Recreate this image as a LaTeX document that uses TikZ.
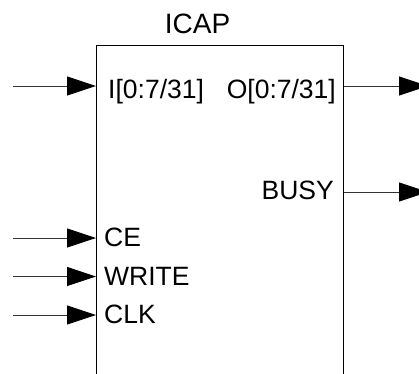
\documentclass[tikz,border=0pt]{standalone}
\usepackage{fontspec}
\setmainfont{Liberation Sans}
\usetikzlibrary{arrows.meta}

\begin{document}
\begin{tikzpicture}[x=1pt,y=1pt,
  pinfont/.style={font=\fontsize{26.5}{28}\selectfont, inner sep=0pt},
  titlefont/.style={font=\fontsize{28}{30}\selectfont, inner sep=0pt},
  sig/.style={draw=black!80, line width=0.8pt,
    -{Triangle[length=29pt,width=19pt,color=black,fill=black]}},
]
\useasboundingbox (0,-373) rectangle (419,0);
\clip (0,-373) rectangle (419,0);

% block outline (bottom edge lies below the visible area)
\node[draw, line width=0.8pt, minimum width=247pt, minimum height=360pt,
      anchor=north west, inner sep=0pt] (icap) at (96,-45) {};

% title
\node[titlefont, anchor=base] (title) at (197.5,-33) {ICAP};

% port labels
\node[pinfont, anchor=base west] (pi)    at (108,-98)  {I[0:7/31]};
\node[pinfont, anchor=base east] (po)    at (336,-98)  {O[0:7/31]};
\node[pinfont, anchor=base east] (busy)  at (334,-199) {BUSY};
\node[pinfont, anchor=base west] (ce)    at (104,-246.5) {CE};
\node[pinfont, anchor=base west] (write) at (104,-285) {WRITE};
\node[pinfont, anchor=base west] (clk)   at (104,-323.5) {CLK};

% free ends of the signal lines
\coordinate (inI)   at (13,-86);
\coordinate (inCE)  at (13,-238);
\coordinate (inWR)  at (13,-276.5);
\coordinate (inCLK) at (13,-315);
\coordinate (outO)  at (428,-86);
\coordinate (outB)  at (428,-192);

% inputs
\draw[sig] (inI)   -- (inI   -| icap.west);
\draw[sig] (inCE)  -- (inCE  -| icap.west);
\draw[sig] (inWR)  -- (inWR  -| icap.west);
\draw[sig] (inCLK) -- (inCLK -| icap.west);

% outputs
\draw[sig] (outO -| icap.east) -- (outO);
\draw[sig] (outB -| icap.east) -- (outB);
\end{tikzpicture}
\end{document}
